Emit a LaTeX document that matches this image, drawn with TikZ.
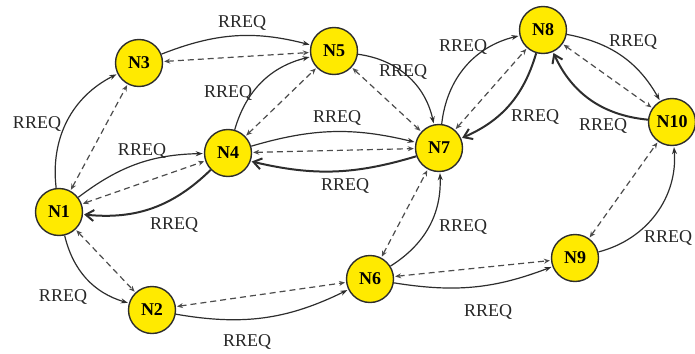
\documentclass[tikz,border=0pt]{standalone}
\usepackage{fontspec}
\setmainfont{Liberation Serif}
\usetikzlibrary{arrows.meta}
\definecolor{nodey}{RGB}{255,234,0}
\definecolor{edgec}{RGB}{45,45,45}
\begin{document}
\begin{tikzpicture}[x=1pt,y=-1pt,
  nd/.style={circle,draw=edgec,line width=1.4pt,fill=nodey,minimum size=47pt,inner sep=0pt,font=\fontsize{18}{18}\selectfont\bfseries},
  fwd/.style={draw=edgec,line width=1.2pt,shorten >=1pt,-{Stealth[length=7pt,width=5pt]}},
  back/.style={draw=edgec,line width=2pt,shorten >=1pt,-{Straight Barb[length=8pt,width=11pt]}},
  dsh/.style={draw=edgec!85,line width=1.2pt,dash pattern=on 6pt off 4pt,shorten >=1pt,shorten <=1pt,{Stealth[length=6pt,width=5pt,open]}-{Stealth[length=6pt,width=5pt,open]}},
  lbl/.style={font=\fontsize{18}{18}\selectfont,text=black!85,inner sep=0pt}]
\useasboundingbox (0,0) rectangle (695,353);
\node[nd] (N1) at (59,212) {N1};
\node[nd] (N2) at (152,310) {N2};
\node[nd] (N3) at (139,63) {N3};
\node[nd] (N4) at (228,153) {N4};
\node[nd] (N5) at (334,51) {N5};
\node[nd] (N6) at (370,279) {N6};
\node[nd] (N7) at (439,148) {N7};
\node[nd] (N8) at (543,30) {N8};
\node[nd] (N9) at (575,258) {N9};
\node[nd] (N10) at (672,122) {N10};
% N1-N3
\draw[fwd] (N1) to[bend left=35] (N3);
\draw[dsh] (N1) -- (N3);
% N1-N4
\draw[fwd] (N1) to[bend left=18] (N4);
\draw[dsh] (N1) -- (N4);
\draw[back] (N4) to[bend left=25] (N1);
% N1-N2
\draw[fwd] (N1) to[bend right=30] (N2);
\draw[dsh] (N1) -- (N2);
% N2-N6
\draw[fwd] (N2) to[bend right=18] (N6);
\draw[dsh] (N2) -- (N6);
% N3-N5
\draw[fwd] (N3) to[bend left=18] (N5);
\draw[dsh] (N3) -- (N5);
% N4-N5
\draw[fwd] (N4) to[bend left=30] (N5);
\draw[dsh] (N4) -- (N5);
% N4-N7
\draw[fwd] (N4) to[bend left=15] (N7);
\draw[dsh] (N4) -- (N7);
\draw[back] (N7.200) to[bend left=15] (N4.-20);
% N5-N7
\draw[fwd] (N5) to[bend left=35] (N7);
\draw[dsh] (N5) -- (N7);
% N6-N7
\draw[fwd] (N6) to[bend right=30] (N7);
\draw[dsh] (N6) -- (N7);
% N6-N9
\draw[fwd] (N6) to[bend right=15] (N9);
\draw[dsh] (N6) -- (N9);
% N7-N8
\draw[fwd] (N7) to[bend left=35] (N8);
\draw[dsh] (N7) -- (N8);
\draw[back] (N8) to[bend left=25] (N7);
% N8-N10
\draw[fwd] (N8) to[bend left=25] (N10);
\draw[dsh] (N8) -- (N10);
\draw[back] (N10) to[bend left=30] (N8);
% N9-N10
\draw[fwd] (N9) to[bend right=40] (N10);
\draw[dsh] (N9) -- (N10);
% labels
\node[lbl] (l13) at (37,124) {RREQ};
\node[lbl] (l35) at (242,23) {RREQ};
\node[lbl] (l45) at (228,93) {RREQ};
\node[lbl] (l14) at (142,151) {RREQ};
\node[lbl] (l47) at (337,118) {RREQ};
\node[lbl] (l41) at (174,225) {RREQ};
\node[lbl] (l74) at (345,186) {RREQ};
\node[lbl] (l57) at (403,72) {RREQ};
\node[lbl] (l78) at (463,47) {RREQ};
\node[lbl] (l87) at (535,117) {RREQ};
\node[lbl] (l810) at (633,42) {RREQ};
\node[lbl] (l108) at (603,126) {RREQ};
\node[lbl] (l67) at (463,227) {RREQ};
\node[lbl] (l910) at (668,238) {RREQ};
\node[lbl] (l69) at (488,312) {RREQ};
\node[lbl] (l12) at (63,297) {RREQ};
\node[lbl] (l26) at (247,342) {RREQ};
\end{tikzpicture}
\end{document}
